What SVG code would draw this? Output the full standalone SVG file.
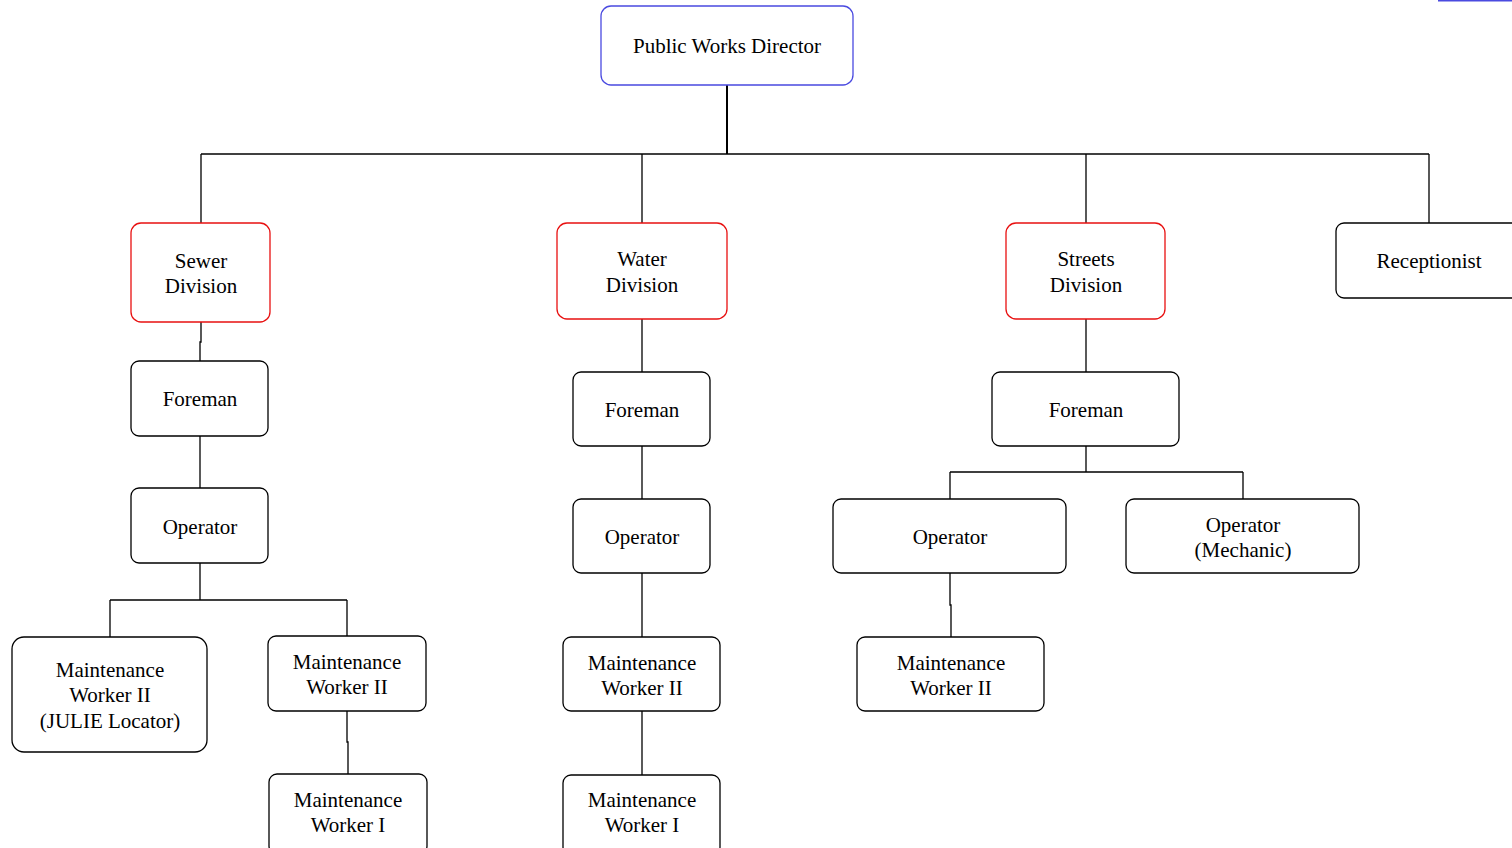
<svg xmlns="http://www.w3.org/2000/svg" width="1512" height="848" viewBox="0 0 1512 848">
<style>
.box{fill:#fff;stroke:#000;stroke-width:1.3}
.blue{stroke:#4a4ae0}
.red{stroke:#e81010}
.c{fill:none;stroke:#000;stroke-width:1.3}
text{font-family:"Liberation Serif","Times New Roman",serif;font-size:21px;fill:#000;text-anchor:middle}
</style>
<rect width="1512" height="848" fill="#fff"/>
<g id="connectors">
<path class="c" d="M727 85V154" style="stroke-width:2"/>
<path class="c" d="M201 154H1429"/>
<path class="c" d="M201 154V223M642 154V223M1086 154V223M1429 154V223"/>
<path class="c" d="M201 322V342H200V361"/>
<path class="c" d="M200 436V488"/>
<path class="c" d="M200 563V600M110 600H347M110 600V637M347 600V636"/>
<path class="c" d="M347 711V742H348V774"/>
<path class="c" d="M642 319V372"/>
<path class="c" d="M642 446V499"/>
<path class="c" d="M642 573V637"/>
<path class="c" d="M642 711V742H642V775"/>
<path class="c" d="M1086 319V372"/>
<path class="c" d="M1086 446V472M950 472H1243M950 472V499M1243 472V499"/>
<path class="c" d="M950 573V605H951V637"/>
<path d="M1438 0.5H1512" fill="none" stroke="#4a4ae0" stroke-width="2"/>
</g>
<g id="director"><rect class="box blue" x="601" y="6" width="252" height="79" rx="10"/><text x="727" y="53">Public Works Director</text></g>
<g id="sewer"><rect class="box red" x="131" y="223" width="139" height="99" rx="10"/><text x="201" y="268">Sewer</text><text x="201" y="293">Division</text></g>
<g id="water"><rect class="box red" x="557" y="223" width="170" height="96" rx="10"/><text x="642" y="266">Water</text><text x="642" y="292">Division</text></g>
<g id="streets"><rect class="box red" x="1006" y="223" width="159" height="96" rx="10"/><text x="1086" y="266">Streets</text><text x="1086" y="292">Division</text></g>
<g id="receptionist"><rect class="box" x="1336" y="223" width="190" height="75" rx="8"/><text x="1429" y="268">Receptionist</text></g>
<g id="sewer-foreman"><rect class="box" x="131" y="361" width="137" height="75" rx="8"/><text x="200" y="406">Foreman</text></g>
<g id="sewer-operator"><rect class="box" x="131" y="488" width="137" height="75" rx="8"/><text x="200" y="534">Operator</text></g>
<g id="sewer-mw2-julie"><rect class="box" x="12" y="637" width="195" height="115" rx="12"/><text x="110" y="677">Maintenance</text><text x="110" y="702">Worker II</text><text x="110" y="728">(JULIE Locator)</text></g>
<g id="sewer-mw2"><rect class="box" x="268" y="636" width="158" height="75" rx="8"/><text x="347" y="669">Maintenance</text><text x="347" y="694">Worker II</text></g>
<g id="sewer-mw1"><rect class="box" x="269" y="774" width="158" height="80" rx="8"/><text x="348" y="807">Maintenance</text><text x="348" y="832">Worker I</text></g>
<g id="water-foreman"><rect class="box" x="573" y="372" width="137" height="74" rx="8"/><text x="642" y="417">Foreman</text></g>
<g id="water-operator"><rect class="box" x="573" y="499" width="137" height="74" rx="8"/><text x="642" y="544">Operator</text></g>
<g id="water-mw2"><rect class="box" x="563" y="637" width="157" height="74" rx="8"/><text x="642" y="670">Maintenance</text><text x="642" y="695">Worker II</text></g>
<g id="water-mw1"><rect class="box" x="563" y="775" width="157" height="80" rx="8"/><text x="642" y="807">Maintenance</text><text x="642" y="832">Worker I</text></g>
<g id="streets-foreman"><rect class="box" x="992" y="372" width="187" height="74" rx="8"/><text x="1086" y="417">Foreman</text></g>
<g id="streets-operator"><rect class="box" x="833" y="499" width="233" height="74" rx="8"/><text x="950" y="544">Operator</text></g>
<g id="streets-mechanic"><rect class="box" x="1126" y="499" width="233" height="74" rx="8"/><text x="1243" y="532">Operator</text><text x="1243" y="557">(Mechanic)</text></g>
<g id="streets-mw2"><rect class="box" x="857" y="637" width="187" height="74" rx="8"/><text x="951" y="670">Maintenance</text><text x="951" y="695">Worker II</text></g>
</svg>
